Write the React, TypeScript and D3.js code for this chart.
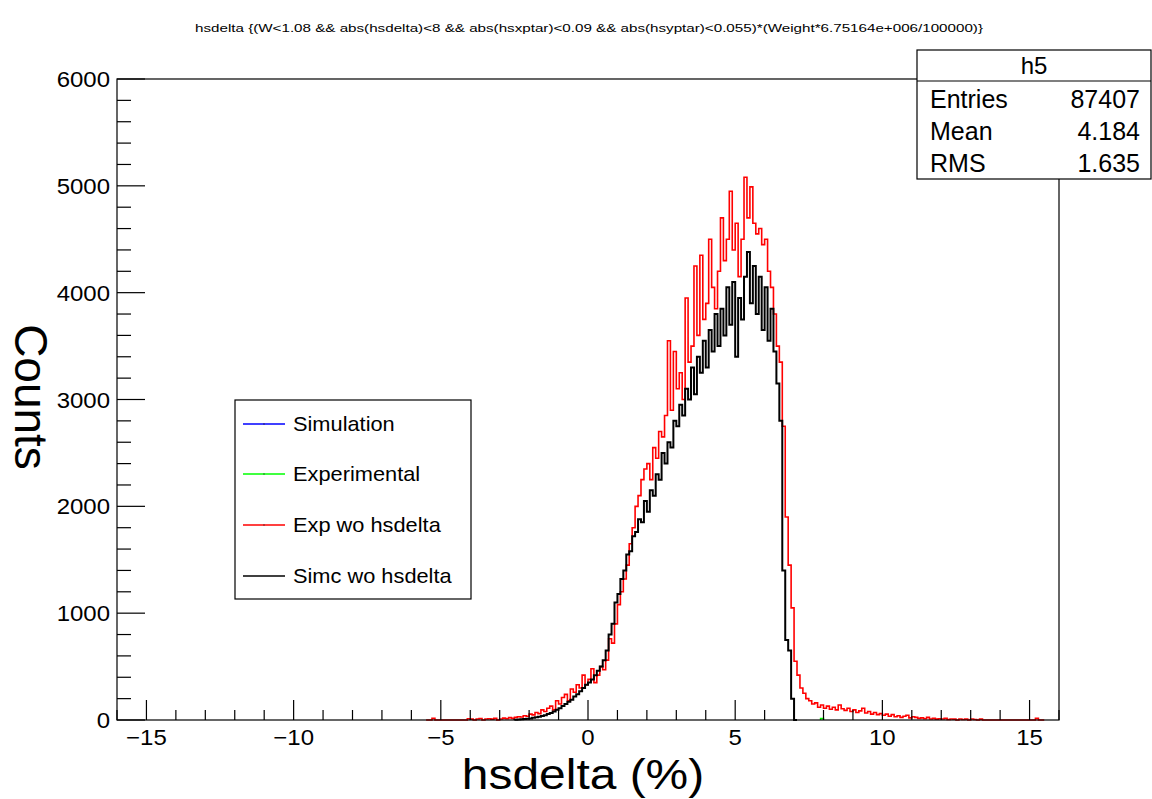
import React from "react";
import * as d3 from "d3";

// ---------------- data ----------------
const BIN_WIDTH = 0.1;
const X_DOMAIN = [-16, 16];
const Y_DOMAIN = [0, 6000];

const titleText =
  "hsdelta {(W<1.08 && abs(hsdelta)<8 && abs(hsxptar)<0.09 && abs(hsyptar)<0.055)*(Weight*6.75164e+006/100000)}";
const xTitle = "hsdelta (%)";
const yTitle = "Counts";

const xMajorTicks = [-15, -10, -5, 0, 5, 10, 15];
const xMinorTicks = d3.range(-16, 17, 1);
const yMajorTicks = [0, 1000, 2000, 3000, 4000, 5000, 6000];
const yMinorTicks = d3.range(0, 6001, 200);

// Exp wo hsdelta (red), first bin lower edge:
const expWoStart = -5.5;
const expWoHsdelta = [
  0, 0, 15, 0, 0, 0, 0, 0, 0, 0,
  0, 0, 0, 0, 12, 8, 0, 10, 14, 0,
  9, 12, 8, 15, 0, 10, 18, 12, 22, 15,
  25, 30, 28, 40, 35, 55, 48, 70, 60, 95,
  80, 110, 130, 95, 180, 150, 210, 240, 180, 290,
  260, 330, 300, 420, 330, 380, 480, 350, 420, 500,
  470, 560, 760, 720, 900, 1080, 1200, 1320, 1450, 1650,
  1800, 2000, 2100, 2250, 2350, 2400, 2250, 2550, 2450, 2700,
  2650, 2850, 3550, 2900, 3450, 3100, 3250, 3000, 3950, 3350,
  3500, 4250, 3600, 4350, 3750, 3900, 4500, 4050, 3850, 4200,
  4700, 4300, 4500, 4950, 4400, 4650, 4150, 4500, 5080, 4700,
  4990, 4650, 4550, 4600, 4450, 4500, 4200, 4050, 3800, 3500,
  3350, 2750, 1900, 1450, 1050, 550, 420, 300, 250, 200,
  180, 150, 160, 120, 140, 110, 130, 100, 120, 95,
  140, 105, 90, 110, 80, 95, 70, 85, 110, 65,
  80, 55, 70, 50, 60, 45, 55, 35, 50, 30,
  40, 25, 35, 45, 20, 30, 25, 15, 20, 12,
  25, 10, 15, 8, 12, 10, 15, 5, 10, 8,
  0, 10, 5, 8, 0, 10, 5, 0, 8, 0,
  0, 0, 0, 0, 0, 0, 0, 0, 0, 0,
  0, 0, 0, 0, 0, 0, 0, 15, 0, 0,
];

// Simc wo hsdelta (black)
const simcWoStart = -2.5;
const simcWoHsdelta = [
  3, 5, 8, 10, 12, 15, 20, 25, 30, 38,
  45, 55, 65, 80, 95, 110, 130, 150, 170, 190,
  220, 240, 270, 300, 330, 350, 380, 420, 460, 500,
  560, 650, 800, 900, 1100, 1180, 1320, 1400, 1550, 1580,
  1720, 1760, 1880, 1850, 2050, 1950, 2150, 2100, 2300, 2250,
  2500, 2400, 2600, 2550, 2800, 2750, 2950, 2850, 3100, 3000,
  3300, 3050, 3400, 3250, 3550, 3300, 3650, 3450, 3800, 3500,
  3850, 3600, 4050, 3700, 4100, 3400, 3950, 3750, 4150, 4380,
  3900, 4250, 3800, 4150, 3650, 4050, 3550, 3850, 3450, 3150,
  2800, 1400, 750, 650, 200, 0,
];

// Experimental (green) – almost nothing visible
const experimentalStart = 7.9;
const experimentalValues = [15];

// Simulation (blue) – not visible
const simulationStart = 0;
const simulationValues: number[] = [];

const legendLabels = ["Simulation", "Experimental", "Exp wo hsdelta", "Simc wo hsdelta"];

const statsName = "h5";
const statsLabels = ["Entries", "Mean", "RMS"];
const statsValues = ["87407", "4.184", "1.635"];

// ---------------- drawing ----------------
const W = 1152;
const H = 799;
const FONT = "'Liberation Sans', Arial, Helvetica, sans-serif";
const SX = 1.09; // horizontal stretch of the reference rendering

function SText(props: {
  x: number;
  y: number;
  size: number;
  anchor?: "start" | "middle" | "end";
  sx?: number;
  children: React.ReactNode;
}) {
  const { x, y, size, anchor = "start", sx = SX, children } = props;
  return (
    <text transform={`translate(${x},${y}) scale(${sx},1)`} fontSize={size} textAnchor={anchor}>
      {children}
    </text>
  );
}

export default function App() {
  const frame = { left: 117, right: 1059, top: 79, bottom: 720 };
  const x = d3.scaleLinear().domain(X_DOMAIN).range([frame.left, frame.right]);
  const y = d3.scaleLinear().domain(Y_DOMAIN).range([frame.bottom, frame.top]);

  const stepPath = (start: number, vals: number[]) => {
    if (!vals.length) return "";
    const pts: [number, number][] = [[x(start), y(0)]];
    vals.forEach((v, i) => {
      const lo = start + i * BIN_WIDTH;
      const hi = lo + BIN_WIDTH;
      pts.push([x(lo), y(v)]);
      pts.push([x(hi), y(v)]);
    });
    pts.push([x(start + vals.length * BIN_WIDTH), y(0)]);
    return d3.line()(pts) || "";
  };

  const colors = ["#0000ff", "#00ff00", "#ff0000", "#000000"];

  const legend = { x: 235, y: 400, w: 236, h: 199 };
  const legendRowY = [424, 474, 525, 576];

  const fmt = (v: number) => (v < 0 ? "\u2212" + Math.abs(v) : String(v));

  return (
    <svg width={W} height={H} style={{ position: "absolute", left: 0, top: 0, background: "#fff" }} fontFamily={FONT}>
      <rect x={0} y={0} width={W} height={H} fill="#fff" />
      {/* title */}
      <text x={589} y={32} fontSize={10.5} textAnchor="middle" textLength={788} lengthAdjust="spacingAndGlyphs">
        {titleText}
      </text>

      {/* histograms */}
      <path d={stepPath(simulationStart, simulationValues)} fill="none" stroke={colors[0]} strokeWidth={1.5} />
      <path d={stepPath(experimentalStart, experimentalValues)} fill="none" stroke={colors[1]} strokeWidth={1.5} />
      <path d={stepPath(expWoStart, expWoHsdelta)} fill="none" stroke={colors[2]} strokeWidth={1.6} />
      <path d={stepPath(simcWoStart, simcWoHsdelta)} fill="none" stroke={colors[3]} strokeWidth={2} />

      {/* frame */}
      <rect x={frame.left} y={frame.top} width={frame.right - frame.left} height={frame.bottom - frame.top} fill="none" stroke="#000" strokeWidth={1.2} />

      {/* x ticks */}
      {xMinorTicks.map((t) => {
        const major = xMajorTicks.includes(t);
        return (
          <line key={"xt" + t} x1={x(t)} x2={x(t)} y1={frame.bottom} y2={frame.bottom - (major ? 20 : 10)} stroke="#000" strokeWidth={1.2} />
        );
      })}
      {xMajorTicks.map((t) => (
        <SText key={"xl" + t} x={x(t)} y={745} size={22} anchor="middle">
          {fmt(t)}
        </SText>
      ))}

      {/* y ticks */}
      {yMinorTicks.map((t) => {
        const major = yMajorTicks.includes(t);
        return (
          <line key={"yt" + t} x1={frame.left} x2={frame.left + (major ? 28 : 14)} y1={y(t)} y2={y(t)} stroke="#000" strokeWidth={1.2} />
        );
      })}
      {yMajorTicks.map((t) => (
        <SText key={"yl" + t} x={110} y={y(t) + 8} size={22} anchor="end">
          {t}
        </SText>
      ))}

      {/* axis titles */}
      <SText x={583} y={789} size={43} anchor="middle" sx={1.115}>
        {xTitle}
      </SText>
      <text transform="translate(15,397) rotate(90)" fontSize={46} textAnchor="middle">
        {yTitle}
      </text>

      {/* legend */}
      <rect x={legend.x} y={legend.y} width={legend.w} height={legend.h} fill="#fff" stroke="#000" strokeWidth={1.2} />
      {legendLabels.map((lab, i) => (
        <g key={lab}>
          <line x1={243} x2={285} y1={legendRowY[i]} y2={legendRowY[i]} stroke={colors[i]} strokeWidth={1.6} />
          {i < 3 && <rect x={263.5} y={legendRowY[i] - 0.5} width={1} height={1} fill="#000" />}
          <SText x={293} y={legendRowY[i] + 7} size={20}>
            {lab}
          </SText>
        </g>
      ))}

      {/* stats box */}
      <rect x={917} y={50} width={234} height={129} fill="#fff" stroke="#000" strokeWidth={1.2} />
      <line x1={917} x2={1151} y1={81} y2={81} stroke="#000" strokeWidth={1.2} />
      <text x={1034} y={74} fontSize={24} textAnchor="middle">
        {statsName}
      </text>
      {statsLabels.map((lab, i) => (
        <g key={lab}>
          <text x={930} y={108 + i * 32} fontSize={25}>
            {lab}
          </text>
          <text x={1140} y={108 + i * 32} fontSize={25} textAnchor="end">
            {statsValues[i]}
          </text>
        </g>
      ))}
    </svg>
  );
}
